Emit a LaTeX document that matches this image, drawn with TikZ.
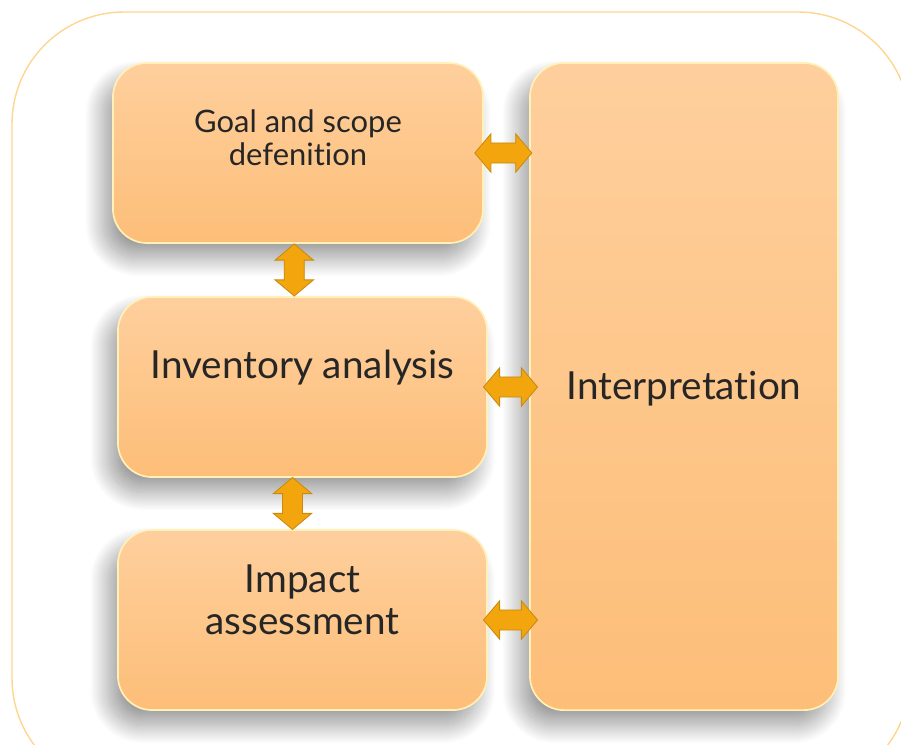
\documentclass[tikz,border=0pt]{standalone}
\usepackage{fontspec}
\setmainfont{Lato}[Ligatures={NoCommon,NoRequired,NoContextual}]
\usetikzlibrary{shapes.arrows,shadows.blur,calc}
\definecolor{boxtop}{HTML}{FECF9D}
\definecolor{boxbot}{HTML}{FDBE78}
\definecolor{boxrim}{HTML}{FFF1B8}
\definecolor{arrowfill}{HTML}{F2A50C}
\definecolor{arrowrim}{HTML}{C98A12}
\definecolor{framecol}{HTML}{FDD690}
\tikzset{
  phase/.style={rectangle, rounded corners=0.85cm, top color=boxtop, bottom color=boxbot,
    draw=boxrim, line width=1.2pt, inner sep=0pt,
    blur shadow={shadow xshift=-7pt, shadow yshift=-11pt, shadow blur radius=13pt,
      shadow blur steps=25, shadow opacity=40}},
  phasetext/.style={align=center, text=black!85, inner sep=0pt},
  dblarrow/.style={double arrow, fill=arrowfill, draw=arrowrim, line width=0.6pt, inner sep=0.24cm,
    double arrow head extend=0.23cm, double arrow tip angle=100}
}
\begin{document}
\begin{tikzpicture}[x=0.025cm, y=-0.025cm]
  \useasboundingbox (0,0) rectangle (901,744);
  \clip (0,0) rectangle (901,744);
  % outer frame
  \draw[framecol, line width=1pt, rounded corners=2.8cm] (12,12) rectangle (910,790);

  % phases
  \node[phase, minimum width=9.25cm, minimum height=4.5cm] (goal) at (298,153) {};
  \node[phase, minimum width=9.225cm, minimum height=4.5cm] (inv) at (302.5,387) {};
  \node[phase, minimum width=9.225cm, minimum height=4.5cm] (imp) at (302.5,620) {};
  \node[phase, minimum width=7.7cm, minimum height=16.175cm] (interp) at (684,386.5) {};

  % labels
  \node[phasetext, font=\fontsize{22}{23.5}\selectfont] (goaltxt) at ($(goal.center)+(0,-15)$) {Goal and scope\\defenition};
  \node[phasetext, font=\fontsize{27.5}{30}\selectfont] (invtxt) at ($(inv.center)+(0,-19)$) {Inventory analysis};
  \node[phasetext, font=\fontsize{27.5}{30}\selectfont] (imptxt) at ($(imp.center)+(0,-20)$) {Impact\\assessment};
  \node[phasetext, font=\fontsize{27.5}{30}\selectfont] (interptxt) at ($(interp.center)+(0,2)$) {Interpretation};

  % arrows
  \path (goal.east) -- (goal.east -| interp.west) node[midway, xshift=-0.08cm, dblarrow, minimum height=1.425cm] (a1) {};
  \path (inv.east) -- (inv.east -| interp.west) node[midway, xshift=0.05cm, dblarrow, minimum height=1.35cm] (a2) {};
  \path (imp.east) -- (imp.east -| interp.west) node[midway, xshift=0.05cm, dblarrow, minimum height=1.35cm] (a3) {};
  \path (goal.south) -- (inv.north) node[midway, xshift=-0.15cm, dblarrow, shape border rotate=90, minimum height=1.3cm] (a4) {};
  \path (inv.south) -- (imp.north) node[midway, xshift=-0.25cm, dblarrow, shape border rotate=90, minimum height=1.3cm] (a5) {};
\end{tikzpicture}
\end{document}
